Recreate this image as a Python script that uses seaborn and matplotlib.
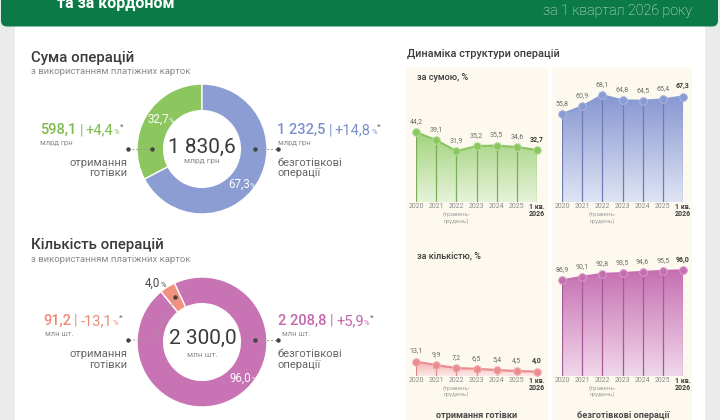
import matplotlib
matplotlib.use("Agg")
import matplotlib.pyplot as plt
import seaborn as sns
import numpy as np
from matplotlib.patches import Rectangle, FancyBboxPatch, Polygon
from matplotlib.colors import LinearSegmentedColormap

# ---------------- data ----------------
years = ["2020", "2021", "2022", "2023", "2024", "2025", "1 кв."]
sum_cash_share = [44.2, 39.1, 31.9, 35.2, 35.5, 34.6, 32.7]
sum_cashless_share = [55.8, 60.9, 68.1, 64.8, 64.5, 65.4, 67.3]
cnt_cash_share = [13.1, 9.9, 7.2, 6.5, 5.4, 4.5, 4.0]
cnt_cashless_share = [86.9, 90.1, 92.8, 93.5, 94.6, 95.5, 96.0]

sum_values = [598.1, 1232.5]          # млрд грн
sum_total = 1830.6
sum_shares = [32.7, 67.3]
sum_growth = ["+4,4", "+14,8"]

cnt_values = [91.2, 2208.8]           # млн шт.
cnt_total = 2300.0
cnt_shares = [4.0, 96.0]
cnt_growth = ["-13,1", "+5,9"]

# ---------------- style ----------------
sns.set_theme(style="white")
plt.rcParams["font.family"] = ["Roboto", "DejaVu Sans"]

W, H = 720, 420
DARK = "#3a3a3a"
GREY = "#8a8a8a"
MID = "#666666"
GREEN, GREEN_T = "#8cc65f", "#7dbb4c"
BLUE, BLUE_T = "#8c9dd3", "#7f90cf"
MAG, MAG_T = "#c873b3", "#c266ab"
SAL, SAL_T = "#f0927f", "#ee8977"
CREAM = "#fdf9ef"


def fmt(v):
    return f"{v:,.1f}".replace(",", " ").replace(".", ",")


fig = plt.figure(figsize=(7.2, 4.2), dpi=100)
fig.patch.set_facecolor("#ebebeb")


def pixel_axes():
    a = fig.add_axes([0, 0, 1, 1])
    a.set_xlim(0, W)
    a.set_ylim(H, 0)
    a.axis("off")
    return a


bg = pixel_axes()

bg.add_patch(Rectangle((15, 20), 690, 410, fc="white", ec="none", zorder=0))
bg.add_patch(FancyBboxPatch((1, -20), 717, 46.5, boxstyle="round,pad=0,rounding_size=6",
                            fc="#0b7a46", ec="none", zorder=1))
bg.text(57, 8, "та за кордоном", color="white", fontsize=11.5, weight="bold",
        va="baseline", ha="left", zorder=2)
bg.text(692, 11, "за 1 квартал 2026 року", color="#e3eee7", fontsize=10.3, weight="light",
        va="center", ha="right", zorder=2)

# cream columns
bg.add_patch(Rectangle((406, 67), 142, 360, fc=CREAM, ec="none", zorder=0.5))
bg.add_patch(Rectangle((552, 67), 140, 360, fc=CREAM, ec="none", zorder=0.5))


def donut(cx, cy, R, vals, colors, start):
    ax = fig.add_axes([(cx - R) / W, 1 - (cy + R) / H, 2 * R / W, 2 * R / H])
    ax.pie(vals, colors=colors, startangle=start, counterclock=True, radius=1,
           wedgeprops=dict(width=0.41, edgecolor="white", linewidth=1.0))
    ax.set_xlim(-1, 1)
    ax.set_ylim(-1, 1)
    ax.set_aspect("equal")
    ax.axis("off")
    return ax


donut(202, 149, 65, sum_values, [GREEN, BLUE], 90)
donut(202, 342, 65, cnt_values, [SAL, MAG], 115)

# overlay for all texts and connectors
top = pixel_axes()


def rich(x, y, parts):
    """parts: (text, size, color, weight, dx, dy) chained on a common baseline."""
    prev = None
    for s, size, color, weight, dx, dy in parts:
        if prev is None:
            t = top.text(x, y, s, fontsize=size, color=color, weight=weight,
                         ha="left", va="baseline", zorder=5)
        else:
            t = top.annotate(s, xy=(1, y), xycoords=(prev, "data"), xytext=(dx, dy),
                             textcoords="offset points", fontsize=size, color=color,
                             weight=weight, ha="left", va="baseline", zorder=5)
        prev = t
    return prev


def connector(xs, ys):
    top.plot(xs, ys, ls=(0, (2, 2)), color="#9a9a9a", lw=0.7, zorder=4)
    top.plot([xs[0], xs[-1]], [ys[0], ys[-1]], "o", ms=2.2, color="#444444", zorder=4)


def value_line(x, y, value, growth, col):
    rich(x, y, [(fmt(value), 10.5, col, "medium", 0, 0),
                ("|", 10, col, "normal", 2.2, 0),
                (growth, 10.5, col, "normal", 2.2, 0),
                ("%", 5.5, col, "normal", 0.3, 0),
                ("*", 6, MID, "normal", 0.3, 4)])


def share_label(x, y, share, col):
    rich(x, y, [(fmt(share), 8.3, col, "normal", 0, 0),
                ("%", 5.2, col, "normal", 0, 0)])


# ---------------- block 1: sum ----------------
top.text(31, 62, "Сума операцій", fontsize=10.8, weight="medium", color=DARK, va="baseline")
top.text(31, 74.5, "з використанням платіжних карток", fontsize=6.8, color=GREY, va="baseline")

top.text(202, 147, fmt(sum_total), fontsize=15, color=DARK, ha="center", va="center", zorder=5)
top.text(202, 161.5, "млрд грн", fontsize=6, color=GREY, ha="center", va="center", zorder=5)

share_label(147, 123, sum_shares[0], "white")
share_label(228, 188, sum_shares[1], "white")

value_line(40, 134, sum_values[0], sum_growth[0], GREEN_T)
top.text(40, 145, "млрд грн", fontsize=5.5, color=GREY, va="baseline")
connector([128, 152], [149, 149])
top.text(127, 166, "отримання", fontsize=8, color=MID, ha="right", va="baseline")
top.text(127, 176.5, "готівки", fontsize=8, color=MID, ha="right", va="baseline")

value_line(277, 134, sum_values[1], sum_growth[1], BLUE_T)
top.text(278, 145, "млрд грн", fontsize=5.5, color=GREY, va="baseline")
connector([255, 278], [149, 149])
top.text(277, 166, "безготівкові", fontsize=8, color=MID, ha="left", va="baseline")
top.text(277, 176.5, "операції", fontsize=8, color=MID, ha="left", va="baseline")

# ---------------- block 2: count ----------------
top.text(31, 249, "Кількість операцій", fontsize=10.8, weight="medium", color=DARK, va="baseline")
top.text(31, 261.5, "з використанням платіжних карток", fontsize=6.8, color=GREY, va="baseline")

top.text(203, 338, fmt(cnt_total), fontsize=15, color=DARK, ha="center", va="center", zorder=5)
top.text(202, 355, "млн шт.", fontsize=6, color=GREY, ha="center", va="center", zorder=5)

share_label(145, 287, cnt_shares[0], "#4a4a4a")
share_label(230, 382, cnt_shares[1], "white")

value_line(43, 325, cnt_values[0], cnt_growth[0], SAL_T)
top.text(45, 336, "млн шт.", fontsize=5.5, color=GREY, va="baseline")
connector([175, 153, 128], [297, 340, 340])
top.text(127, 357, "отримання", fontsize=8, color=MID, ha="right", va="baseline")
top.text(127, 367.5, "готівки", fontsize=8, color=MID, ha="right", va="baseline")

value_line(278, 325, cnt_values[1], cnt_growth[1], MAG_T)
top.text(282, 336, "млн шт.", fontsize=5.5, color=GREY, va="baseline")
connector([255, 278], [340, 340])
top.text(278, 357, "безготівкові", fontsize=8, color=MID, ha="left", va="baseline")
top.text(278, 367.5, "операції", fontsize=8, color=MID, ha="left", va="baseline")

# ---------------- right: dynamics ----------------
top.text(407, 57, "Динаміка структури операцій", fontsize=7.8, weight="medium", color=DARK,
         va="baseline")
top.text(417, 80, "за сумою, %", fontsize=6.5, weight="medium", color=DARK, va="baseline")
top.text(417, 258, "за кількістю, %", fontsize=6.5, weight="medium", color=DARK, va="baseline")
top.text(477, 416, "отримання готівки", fontsize=6.6, weight="bold", color="#4a4a4a",
         ha="center", va="center")
top.text(623, 416, "безготівкові операції", fontsize=6.6, weight="bold", color="#4a4a4a",
         ha="center", va="center")


def area(x0, x1, base, k, ylim, vals, line_c, f_top, f_bot, vline_c, edge_c):
    ytop = base - k * ylim[1]
    ybot = base - k * ylim[0]
    ax = fig.add_axes([x0 / W, 1 - ybot / H, (x1 - x0) / W, (ybot - ytop) / H])
    xs = np.arange(len(vals))
    cmap = LinearSegmentedColormap.from_list("g", [f_bot, f_top])
    grad = np.linspace(0, 1, 256).reshape(-1, 1)
    im = ax.imshow(grad, cmap=cmap, extent=[0, len(vals) - 1, ylim[0], max(vals)],
                   origin="lower", aspect="auto", zorder=1)
    poly = Polygon([(0, ylim[0])] + list(zip(xs, vals)) + [(len(vals) - 1, ylim[0])],
                   closed=True, fc="none", ec="none")
    ax.add_patch(poly)
    im.set_clip_path(poly)
    ax.vlines(xs, ylim[0], vals, color=vline_c, lw=0.9, zorder=2)
    sns.lineplot(x=xs, y=vals, ax=ax, color=line_c, lw=1.6, marker="o", markersize=5.5,
                 markeredgecolor=edge_c, markeredgewidth=0.7, zorder=4, clip_on=False)
    for i, v in enumerate(vals):
        last = i == len(vals) - 1
        ax.annotate(fmt(v), xy=(i, v), xytext=(0, 7.6), textcoords="offset points",
                    ha="center", va="center", fontsize=5, annotation_clip=False,
                    color=DARK if last else "#6d6d6d", weight="bold" if last else "normal")
    for i, lab in enumerate(years):
        last = i == len(years) - 1
        ax.annotate(lab, xy=(i, 0), xycoords=("data", "axes fraction"), xytext=(0, -3.3),
                    textcoords="offset points", ha="center", va="center", fontsize=5,
                    color=DARK if last else GREY, weight="bold" if last else "normal",
                    annotation_clip=False)
    ax.annotate("2026", xy=(len(years) - 1, 0), xycoords=("data", "axes fraction"),
                xytext=(0, -8.4), textcoords="offset points", ha="center", va="center",
                fontsize=5, color=DARK, weight="bold", annotation_clip=False)
    ax.annotate("(травень-", xy=(2, 0), xycoords=("data", "axes fraction"),
                xytext=(0, -8.4), textcoords="offset points", ha="center", va="center",
                fontsize=4.5, color="#a0a0a0", annotation_clip=False)
    ax.annotate("грудень)", xy=(2, 0), xycoords=("data", "axes fraction"),
                xytext=(0, -13.4), textcoords="offset points", ha="center", va="center",
                fontsize=4.5, color="#a0a0a0", annotation_clip=False)
    ax.set_xlim(0, len(vals) - 1)
    ax.set_ylim(*ylim)
    ax.axis("off")
    return ax


area(416, 537, 200.5, 1.545, (-1, 80), sum_cash_share, "#8cc663", "#a3d37e", "#e7f3da",
     "#79ad57", "#b5dc98")
area(562, 683, 200.5, 1.545, (-1, 80), sum_cashless_share, "#8a9bd3", "#8797d1", "#dfe4f4",
     "#6e7db5", "#aab6e0")
area(416, 537, 376, 1.1, (0, 110), cnt_cash_share, "#e98d90", "#f3b0b1", "#fce9e7",
     "#e08a8d", "#f4b5b7")
area(562, 683, 376, 1.1, (0, 110), cnt_cashless_share, "#c56fb1", "#c76fb2", "#f0d8eb",
     "#a65a98", "#d99bcb")

fig.savefig("out.png", dpi=100, facecolor=fig.get_facecolor())
